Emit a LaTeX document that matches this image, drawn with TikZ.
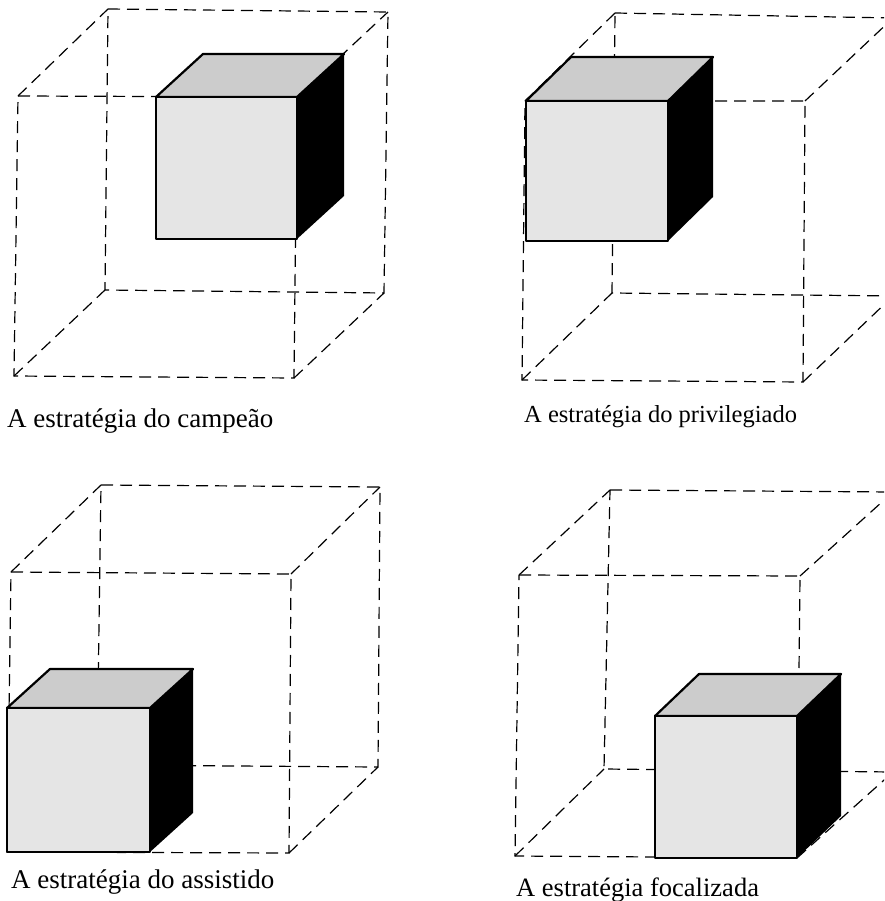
\documentclass[tikz,border=0pt]{standalone}
\usepackage{fontspec}
\setmainfont{Liberation Serif}
\tikzset{
  wire/.style={black, dash pattern=on 12pt off 7pt, line width=1.2pt},
  solid face/.style={draw=black, line width=2.2pt, line join=round},
  caption/.style={anchor=base west, inner sep=0pt, font=\fontsize{27}{30}\selectfont}
}
% pixel units of the reference, y pointing down from the top
\newcommand{\wirecube}[8]{%
  % #1..#4 = front corners: top left, top right, bottom right, bottom left
  % #5..#8 = back corners, same order
  \draw[wire] #1 -- #2 -- #3 -- #4 -- cycle;
  \draw[wire] #5 -- #6 -- #7 -- #8 -- cycle;
  \draw[wire] #1 -- #5;
  \draw[wire] #2 -- #6;
  \draw[wire] #3 -- #7;
  \draw[wire] #4 -- #8;
}
\newcommand{\solidcube}[6]{%
  % (#1,#2) = front top left, (#3,#4) = front bottom right
  % #5, #6 = depth in x and y
  \fill[black] (#3,#2) -- ({#3+#5},{#2+#6}) -- ({#3+#5},{#4+#6}) -- (#3,#4) -- cycle;
  \draw[solid face, fill=black!20] (#1,#2) -- ({#1+#5},{#2+#6}) -- ({#3+#5},{#2+#6}) -- (#3,#2) -- cycle;
  \draw[solid face, fill=black!10] (#1,#2) rectangle (#3,#4);
}
\begin{document}
\begin{tikzpicture}[x=1pt,y=-1pt]
  \useasboundingbox (0,0) rectangle (884,901);
  \clip (0,0) rectangle (884,901);
  % top left
  \wirecube{(18,96)}{(297,97)}{(294,378)}{(14,376)}{(108,9)}{(388,12)}{(384,293)}{(105,290)}
  \solidcube{156}{97}{297}{239}{47}{-43}
  \node[caption] (champion) at (7,427) {A estratégia do campeão};
  % top right
  \wirecube{(525,101)}{(805,101)}{(803,382)}{(522,380)}{(615,13)}{(893,18)}{(893,296)}{(612,293)}
  \solidcube{526}{101}{668}{241}{45}{-44}
  \node[caption, font=\fontsize{24.5}{28}\selectfont] (privileged) at (524,422) {A estratégia do privilegiado};
  % bottom left
  \wirecube{(11,572)}{(291,574)}{(289,853)}{(7,852)}{(101,485)}{(380,487)}{(378,767)}{(97,765)}
  \solidcube{7}{708}{150}{852}{43}{-39}
  \node[caption] (assisted) at (11,888) {A estratégia do assistido};
  % bottom right
  \wirecube{(519,575)}{(800,576)}{(797,858)}{(515,856)}{(610,490)}{(893,492)}{(893,772)}{(604,769)}
  \solidcube{655}{716}{797}{858}{44}{-42}
  \node[caption, font=\fontsize{26.5}{30}\selectfont] (focused) at (516,896) {A estratégia focalizada};
\end{tikzpicture}
\end{document}
